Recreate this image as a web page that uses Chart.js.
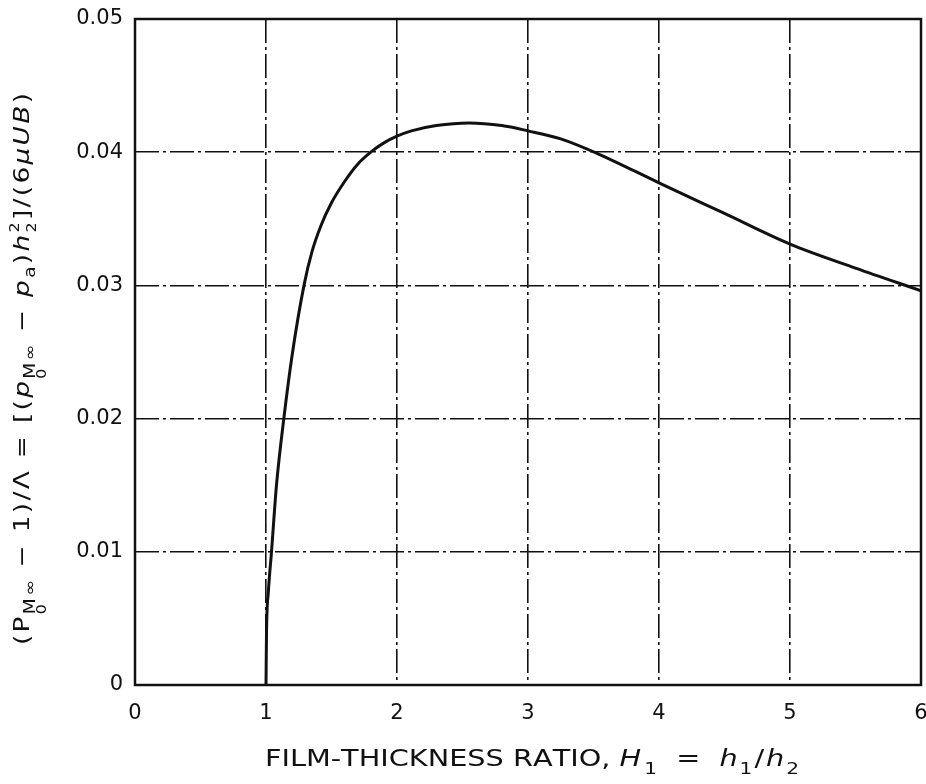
<!DOCTYPE html>
<html lang="en">
<head>
<meta charset="UTF-8" />
<title>Film-Thickness Ratio</title>
<script src="https://cdn.jsdelivr.net/npm/chart.js"></script>
<style>
  html, body { margin:0; padding:0; background:#fff; }
  #wrap { width:926px; height:784px; }
</style>
</head>
<body>
<div id="wrap"><canvas id="chart" width="926" height="784"></canvas></div>
<script>
  // values
  const ratioH1 = [1.0, 1.004, 1.018, 1.042, 1.08, 1.136, 1.2, 1.29, 1.35, 1.42, 1.5, 1.6, 1.7, 1.8, 1.9, 2.0, 2.11, 2.3, 2.55, 2.8, 3.0, 3.25, 3.53, 4.0, 4.5, 5.0, 5.5, 6.0];
  const loadParam = [0, 0.004, 0.007, 0.01, 0.015, 0.02, 0.0248, 0.03, 0.0325, 0.0345, 0.0362, 0.0378, 0.0391, 0.0400, 0.0407, 0.0412, 0.0416, 0.042, 0.0422, 0.0420, 0.0416, 0.0410, 0.0399, 0.0377, 0.0354, 0.0331, 0.0313, 0.0296];
  const xTicks = [0, 1, 2, 3, 4, 5, 6];
  const yTicks = [0, 0.01, 0.02, 0.03, 0.04, 0.05];

  const FAMILY = "'DejaVu Sans', sans-serif";
  const INK = '#111';

  // y title: (P_M∞,0 − 1)/Λ = [(p_M∞,0 − p_a)h_2^2]/(6μUB)
  const yTitle = [
    { t: '(P' },
    { t: 'M\u221E', s: 0.7, dy: 0.25 },
    { t: '0', s: 0.6, dy: 0.75, under: true },
    { t: ' \u2212 1)/\u039B = [(' },
    { t: 'p', i: true },
    { t: 'M\u221E', s: 0.7, dy: 0.25 },
    { t: '0', s: 0.6, dy: 0.75, under: true },
    { t: ' \u2212 ' },
    { t: 'p', i: true },
    { t: 'a', s: 0.7, dy: 0.25 },
    { t: ')' },
    { t: 'h', i: true },
    { t: '2', s: 0.6, dy: -0.45 },
    { t: '2', s: 0.6, dy: 0.3, under: true },
    { t: ']/(6' },
    { t: '\u03BCUB', i: true },
    { t: ')' }
  ];
  const xTitle = [
    { t: 'FILM-THICKNESS RATIO, ' },
    { t: 'H', i: true, tr: 3 },
    { t: '1', s: 0.7, dy: 0.35, tr: 5 },
    { t: ' = ', tr: 5 },
    { t: 'h', i: true, tr: 2 },
    { t: '1', s: 0.7, dy: 0.35, tr: 2 },
    { t: '/', tr: 2 },
    { t: 'h', i: true, tr: 2 },
    { t: '2', s: 0.7, dy: 0.35 }
  ];

  // lay out segments char by char (widened by sx); target spreads spare room evenly, tr adds per segment
  function layoutRich(ctx, segs, size, sx, target) {
    const fonts = segs.map(s => (s.i ? 'italic ' : '') + (size * (s.s || 1)) + 'px ' + FAMILY);
    let natural = 0, gaps = 0;
    segs.forEach((s, k) => {
      if (s.under) return;
      ctx.font = fonts[k];
      natural += ctx.measureText(s.t).width * sx;
      gaps += s.t.length;
    });
    const track = target ? (target - natural) / Math.max(1, gaps - 1) : 0;
    let x = 0, prevX = 0;
    const items = [];
    segs.forEach((s, k) => {
      ctx.font = fonts[k];
      const start = s.under ? prevX : x;
      let cx = start;
      for (const ch of s.t) {
        items.push({ t: ch, font: fonts[k], x: cx, dy: (s.dy || 0) * size });
        cx += ctx.measureText(ch).width * sx + track + (s.tr || 0);
      }
      if (s.under) {
        x = Math.max(x, cx);
      } else {
        prevX = start;
        x = cx;
      }
    });
    return { items, width: x - track };
  }

  function drawRich(ctx, segs, size, sx, target, cx, cy, rot) {
    const r = layoutRich(ctx, segs, size, sx, target);
    ctx.save();
    ctx.translate(cx, cy);
    ctx.rotate(rot);
    ctx.fillStyle = INK;
    ctx.textBaseline = 'alphabetic';
    ctx.textAlign = 'left';
    r.items.forEach(it => {
      ctx.save();
      ctx.translate(it.x - r.width / 2, it.dy);
      ctx.scale(sx, 1);
      ctx.font = it.font;
      ctx.fillText(it.t, 0, 0);
      ctx.restore();
    });
    ctx.restore();
  }

  const framePlugin = {
    id: 'frame',
    afterDraw(chart) {
      const { ctx, chartArea: a } = chart;
      ctx.save();
      ctx.strokeStyle = INK;
      ctx.lineWidth = 2.5;
      ctx.strokeRect(a.left, a.top, a.right - a.left, a.bottom - a.top);
      ctx.restore();
      drawRich(ctx, yTitle, 22, 1.2, 552, 29, 369, -Math.PI / 2);
      drawRich(ctx, xTitle, 23, 1.25, 0, 532, 766, 0);
    }
  };

  const gridStyle = {
    color: INK,
    lineWidth: 1.6,
    drawTicks: false
  };

  new Chart(document.getElementById('chart'), {
    type: 'line',
    data: {
      datasets: [{
        data: ratioH1.map((x, i) => ({ x, y: loadParam[i] })),
        borderColor: INK,
        borderWidth: 3,
        pointRadius: 0,
        fill: false,
        cubicInterpolationMode: 'monotone'
      }]
    },
    options: {
      responsive: false,
      animation: false,
      layout: { padding: { top: 19, right: 5, left: 0, bottom: 0 } },
      plugins: { legend: { display: false }, tooltip: { enabled: false } },
      scales: {
        x: {
          type: 'linear',
          min: 0, max: 6,
          afterBuildTicks: s => { s.ticks = xTicks.map(v => ({ value: v })); },
          afterFit: s => { s.height = 99; s.paddingLeft = 0; s.paddingRight = 0; },
          grid: gridStyle,
          border: { display: false, dash: [24, 4, 3, 4] },
          ticks: {
            color: INK,
            padding: 16,
            maxRotation: 0,
            font: { family: FAMILY, size: 21 },
            callback: v => String(v)
          }
        },
        y: {
          type: 'linear',
          min: 0, max: 0.05,
          afterBuildTicks: s => { s.ticks = yTicks.map(v => ({ value: v })); },
          afterFit: s => { s.width = 135; s.paddingTop = 0; s.paddingBottom = 0; },
          grid: gridStyle,
          border: { display: false, dash: [24, 4, 3, 4] },
          ticks: {
            color: INK,
            padding: 12,
            font: { family: FAMILY, size: 21 },
            callback: v => (v === 0 ? '0' : v.toFixed(2))
          }
        }
      }
    },
    plugins: [framePlugin]
  });
</script>
</body>
</html>
